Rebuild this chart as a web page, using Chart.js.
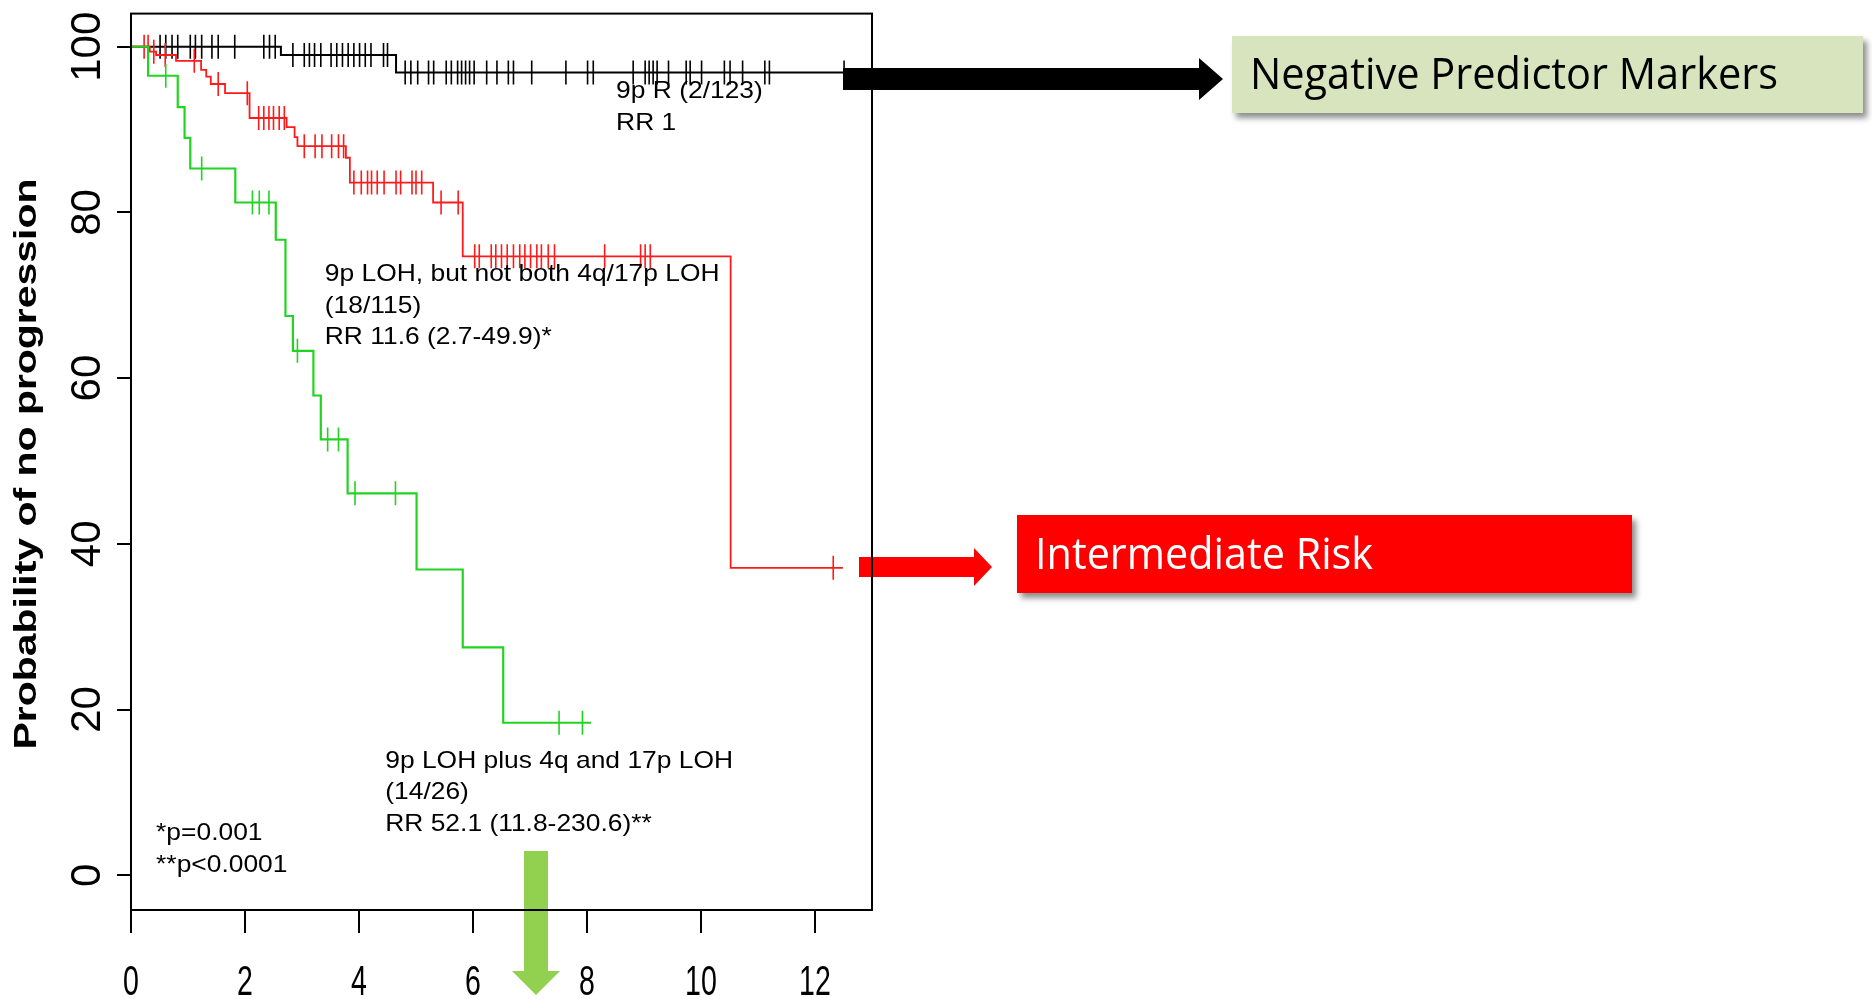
<!DOCTYPE html>
<html>
<head>
<meta charset="utf-8">
<title>Progression by 9p / 4q / 17p LOH status</title>
<script src="https://cdn.jsdelivr.net/npm/chart.js@4.4.1/dist/chart.umd.min.js"></script>
<style>
  html, body { margin: 0; padding: 0; background: #fff; }
  #wrap { width: 1872px; height: 999px; position: relative; }
</style>
</head>
<body>
<div id="wrap"><canvas id="km" width="1872" height="999"></canvas></div>
<script>
// axis ticks
var xTicks = [0, 2, 4, 6, 8, 10, 12];
var yTicks = [0, 20, 40, 60, 80, 100];

// 9p retained (black) - step start times and survival (%)
var blackTimes = [0, 2.63, 4.65, 12.51];
var blackSurv  = [100, 99.0, 96.9, 96.9];
var blackCensor = [0.51, 0.61, 0.72, 0.82, 1.04, 1.13, 1.24, 1.42, 1.53, 1.82, 2.33, 2.43, 2.53,
  2.84, 3.04, 3.13, 3.22, 3.33, 3.51, 3.61, 3.71, 3.81, 3.91, 4.01, 4.11, 4.21, 4.43, 4.50,
  4.81, 4.91, 5.03, 5.22, 5.31, 5.53, 5.62, 5.73, 5.80, 5.87, 5.94, 6.02, 6.24, 6.42, 6.62, 6.71,
  7.03, 7.63, 8.01, 8.11, 8.81, 9.02, 9.09, 9.16, 9.23, 9.43, 9.74, 9.81, 10.01, 10.41, 10.51,
  10.73, 11.12, 11.20, 12.51];

// 9p LOH, but not both 4q/17p LOH (red)
var redTimes = [0, 0.33, 0.44, 0.79, 1.23, 1.32, 1.40, 1.65, 2.08, 2.73, 2.87, 2.92, 3.77, 3.84, 5.30, 5.82, 10.52, 12.49];
var redSurv  = [100, 99.4, 99.0, 98.3, 97.2, 96.4, 95.5, 94.4, 91.4, 90.3, 89.1, 88.0, 86.6, 83.6, 81.2, 74.7, 37.1, 37.1];
var redCensor = [0.23, 0.30, 0.40, 0.60, 1.11, 1.53, 2.04, 2.24, 2.33, 2.42, 2.50, 2.60, 2.69,
  3.04, 3.23, 3.35, 3.52, 3.64, 3.73, 3.91, 4.04, 4.15, 4.22, 4.32, 4.44, 4.65, 4.73, 4.93, 5.00, 5.10,
  5.44, 5.74, 6.03, 6.11, 6.32, 6.40, 6.50, 6.60, 6.71, 6.82, 6.91, 7.01, 7.12, 7.20, 7.32, 7.43,
  8.31, 8.94, 9.02, 9.11, 12.32];

// 9p LOH plus 4q and 17p LOH (green)
var greenTimes = [0, 0.30, 0.82, 0.94, 1.04, 1.83, 2.54, 2.71, 2.84, 3.20, 3.33, 3.80, 5.01, 5.82, 6.53, 8.07];
var greenSurv  = [100, 96.5, 92.7, 89.0, 85.3, 81.2, 76.7, 67.5, 63.3, 57.9, 52.6, 46.1, 36.9, 27.5, 18.4, 18.4];
var greenCensor = [0.61, 1.24, 2.13, 2.25, 2.42, 2.92, 3.45, 3.64, 3.93, 4.64, 7.51, 7.92];

// text blocks inside the plot: anchor in data units, lines
var notes = [
  { x: 8.51, y: 93.8, lines: ['9p R (2/123)', 'RR 1'] },
  { x: 3.40, y: 71.7, lines: ['9p LOH, but not both 4q/17p LOH', '(18/115)', 'RR 11.6 (2.7-49.9)*'] },
  { x: 4.46, y: 13.0, lines: ['9p LOH plus 4q and 17p LOH', '(14/26)', 'RR 52.1 (11.8-230.6)**'] },
  { x: 0.44, y: 4.2, lines: ['*p=0.001', '**p<0.0001'] }
];

var BLACK = '#000000', RED = '#ff1a1a', GREEN = '#22d422';

function steps(times, surv) {
  return times.map(function (t, i) { return { x: t, y: surv[i] }; });
}

function survAt(times, surv, t) {
  var s = surv[0];
  for (var i = 0; i < times.length; i++) {
    if (times[i] <= t) s = surv[i];
  }
  return s;
}

function censorPts(times, surv, cens) {
  return cens.map(function (t) { return { x: t, y: survAt(times, surv, t) }; });
}

function curve(label, times, surv, color, width, order) {
  return {
    type: 'line', label: label, data: steps(times, surv), stepped: true,
    borderColor: color, borderWidth: width, pointRadius: 0, fill: false, order: order
  };
}

function ticksSet(label, times, surv, cens, color, order) {
  return {
    type: 'scatter', label: label, data: censorPts(times, surv, cens),
    pointStyle: 'line', rotation: 90, pointRadius: 12, borderColor: color,
    backgroundColor: color, borderWidth: 1.6, showLine: false, order: order
  };
}

function fitText(ctx, text, x, y, width) {
  var w = ctx.measureText(text).width;
  ctx.save();
  ctx.translate(x, y);
  ctx.scale(width / w, 1);
  ctx.fillText(text, 0, 0);
  ctx.restore();
}

function arrowRight(ctx, x0, x1, xTip, yc, shaftH, headH, color) {
  ctx.fillStyle = color;
  ctx.beginPath();
  ctx.moveTo(x0, yc - shaftH / 2);
  ctx.lineTo(x1, yc - shaftH / 2);
  ctx.lineTo(x1, yc - headH / 2);
  ctx.lineTo(xTip, yc);
  ctx.lineTo(x1, yc + headH / 2);
  ctx.lineTo(x1, yc + shaftH / 2);
  ctx.lineTo(x0, yc + shaftH / 2);
  ctx.closePath();
  ctx.fill();
}

function arrowDown(ctx, xc, y0, y1, yTip, shaftW, headW, color) {
  ctx.fillStyle = color;
  ctx.beginPath();
  ctx.moveTo(xc - shaftW / 2, y0);
  ctx.lineTo(xc + shaftW / 2, y0);
  ctx.lineTo(xc + shaftW / 2, y1);
  ctx.lineTo(xc + headW / 2, y1);
  ctx.lineTo(xc, yTip);
  ctx.lineTo(xc - headW / 2, y1);
  ctx.lineTo(xc - shaftW / 2, y1);
  ctx.closePath();
  ctx.fill();
}

function callout(ctx, x, y, w, h, fill, text, textColor, textW) {
  ctx.save();
  ctx.shadowColor = 'rgba(0,0,0,0.45)';
  ctx.shadowBlur = 6;
  ctx.shadowOffsetX = 4;
  ctx.shadowOffsetY = 5;
  ctx.fillStyle = fill;
  ctx.fillRect(x, y, w, h);
  ctx.restore();
  ctx.fillStyle = textColor;
  ctx.font = '44px "Open Sans", "Noto Sans", sans-serif';
  ctx.textAlign = 'left';
  ctx.textBaseline = 'middle';
  fitText(ctx, text, x + 18, y + h / 2 + 2, textW);
}

var decor = {
  id: 'decor',
  afterDraw: function (chart) {
    var ctx = chart.ctx, a = chart.chartArea;
    var xs = chart.scales.x, ys = chart.scales.y;
    ctx.save();

    // arrows and call-out boxes
    arrowRight(ctx, 843, 1199, 1223, 79, 22, 42, '#000');
    arrowRight(ctx, 859, 974, 992, 567, 20, 38, '#ff0000');
    arrowDown(ctx, 536, 851, 971, 995, 24, 48, '#92d050');
    callout(ctx, 1232, 36, 631, 77, '#d7e4bd', 'Negative Predictor Markers', '#000', 528);
    callout(ctx, 1017, 515, 615, 78, '#ff0000', 'Intermediate Risk', '#fff', 338);

    // plot box
    ctx.strokeStyle = '#000';
    ctx.lineWidth = 2;
    ctx.strokeRect(a.left, a.top, a.right - a.left, a.bottom - a.top);

    // x tick labels (condensed)
    ctx.fillStyle = '#000';
    ctx.font = '42px "Liberation Sans", Arial, sans-serif';
    ctx.textBaseline = 'alphabetic';
    ctx.textAlign = 'center';
    xTicks.forEach(function (v) {
      ctx.save();
      ctx.translate(xs.getPixelForValue(v), 995);
      ctx.scale(0.68, 1);
      ctx.fillText(String(v), 0, 0);
      ctx.restore();
    });

    // y tick labels, rotated
    ctx.font = '42px "Liberation Sans", Arial, sans-serif';
    yTicks.forEach(function (v) {
      ctx.save();
      ctx.translate(100, ys.getPixelForValue(v));
      ctx.rotate(-Math.PI / 2);
      ctx.fillText(String(v), 0, 0);
      ctx.restore();
    });

    // y title
    ctx.save();
    ctx.font = 'bold 31px "Liberation Sans", Arial, sans-serif';
    ctx.translate(36, 464);
    ctx.rotate(-Math.PI / 2);
    ctx.textAlign = 'left';
    var title = 'Probability of no progression';
    var tw = ctx.measureText(title).width;
    ctx.scale(571 / tw, 1);
    ctx.fillText(title, -tw / 2, 0);
    ctx.restore();

    // group notes
    ctx.font = '24px "Liberation Sans", Arial, sans-serif';
    ctx.textAlign = 'left';
    notes.forEach(function (n) {
      var px = xs.getPixelForValue(n.x), py = ys.getPixelForValue(n.y);
      n.lines.forEach(function (line, i) {
        ctx.save();
        ctx.translate(px, py + i * 31.5);
        ctx.scale(1.1, 1);
        ctx.fillText(line, 0, 0);
        ctx.restore();
      });
    });

    ctx.restore();
  }
};

new Chart(document.getElementById('km'), {
  data: {
    datasets: [
      curve('9p LOH plus 4q and 17p LOH', greenTimes, greenSurv, GREEN, 2.2, 1),
      ticksSet('green censored', greenTimes, greenSurv, greenCensor, GREEN, 1),
      curve('9p LOH, but not both 4q/17p LOH', redTimes, redSurv, RED, 1.8, 2),
      ticksSet('red censored', redTimes, redSurv, redCensor, RED, 2),
      curve('9p R', blackTimes, blackSurv, BLACK, 2, 3),
      ticksSet('black censored', blackTimes, blackSurv, blackCensor, BLACK, 3)
    ]
  },
  options: {
    responsive: false,
    animation: false,
    devicePixelRatio: 1,
    events: [],
    layout: { padding: { top: 12, right: 1000, bottom: 0, left: 0 } },
    plugins: { legend: { display: false }, tooltip: { enabled: false } },
    scales: {
      x: {
        type: 'linear', min: 0, max: 13,
        border: { display: false },
        grid: { drawOnChartArea: false, drawTicks: true, tickLength: 23, color: '#000', lineWidth: 2 },
        ticks: { display: false },
        afterBuildTicks: function (s) { s.ticks = xTicks.map(function (v) { return { value: v }; }); },
        afterFit: function (s) { s.height = 89; }
      },
      y: {
        type: 'linear', min: -4.2, max: 104,
        border: { display: false },
        grid: { drawOnChartArea: false, drawTicks: true, tickLength: 14, color: '#000', lineWidth: 2 },
        ticks: { display: false },
        afterBuildTicks: function (s) { s.ticks = yTicks.map(function (v) { return { value: v }; }); },
        afterFit: function (s) { s.width = 131; }
      }
    }
  },
  plugins: [decor]
});
</script>
</body>
</html>
